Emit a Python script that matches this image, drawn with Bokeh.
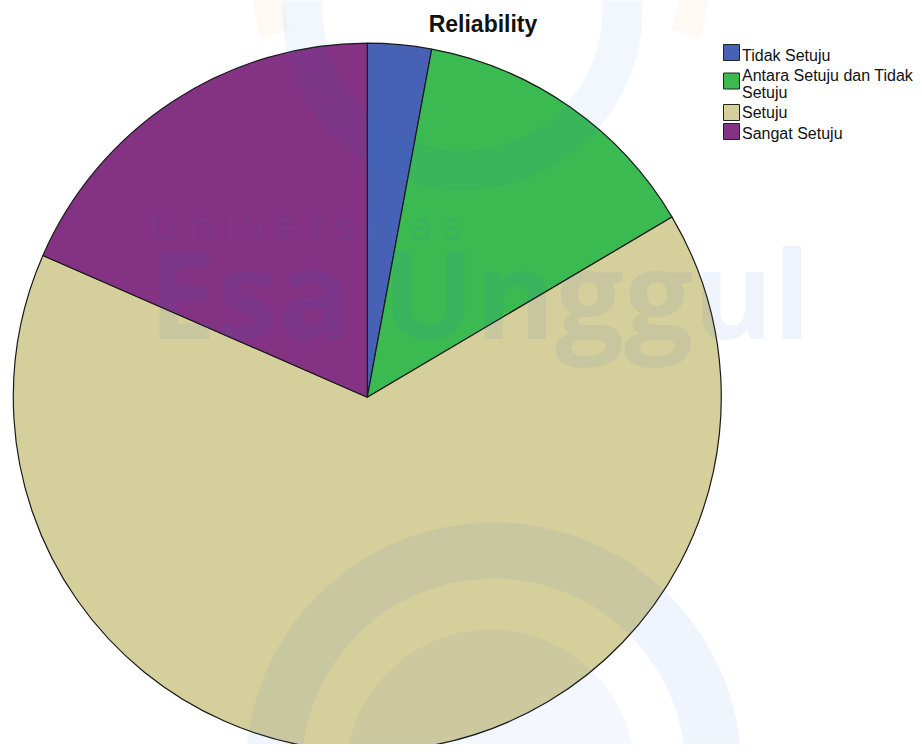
import math
from bokeh.plotting import figure
from bokeh.models import Range1d, ColumnDataSource
from bokeh.core.properties import value
from bokeh.embed import file_html
from bokeh.resources import INLINE

# ---- data ----
title = "Reliability"
categories = ["Tidak Setuju", "Antara Setuju dan Tidak Setuju", "Setuju", "Sangat Setuju"]
legend_labels = ["Tidak Setuju", "Antara Setuju dan Tidak\nSetuju", "Setuju", "Sangat Setuju"]
counts = [3, 14, 67, 19]
colors = ["#4762b4", "#3bba52", "#d5cf9b", "#843384"]

W, H = 914, 744
p = figure(width=W, height=H, output_backend="svg", toolbar_location=None,
           x_range=Range1d(0, W), y_range=Range1d(0, H),
           min_border=0, outline_line_color=None, background_fill_color="white")
p.axis.visible = False
p.grid.visible = False

# ---- pie ----
cx, cy, r = 366.8, 347.3, 354
total = float(sum(counts))
starts, ends = [], []
cum = 0.0
for c in counts:
    starts.append(math.pi / 2 - 2 * math.pi * cum / total)
    cum += c
    ends.append(math.pi / 2 - 2 * math.pi * cum / total)
src = ColumnDataSource(dict(start=starts, end=ends, color=colors, cat=categories))
p.wedge(x=cx, y=cy, radius=r, start_angle="start", end_angle="end", direction="clock",
        fill_color="color", line_color="#1a1a1a", line_width=1.2, source=src)

# ---- faint watermark ----
wm_blue = "#2a62d8"
wm_orange = "#f08030"
p.annular_wedge(x=[462], y=[734], inner_radius=140, outer_radius=180, start_angle=0,
                end_angle=2 * math.pi, fill_color=wm_blue, fill_alpha=0.06, line_color=None)
p.annular_wedge(x=[480], y=[774], inner_radius=200, outer_radius=230, start_angle=-0.3,
                end_angle=math.pi + 0.3, fill_color=wm_orange, fill_alpha=0.05, line_color=None)
p.annular_wedge(x=[493], y=[-26], inner_radius=192, outer_radius=248, start_angle=0,
                end_angle=math.pi, fill_color=wm_blue, fill_alpha=0.07, line_color=None)
p.annular_wedge(x=[490], y=[-30], inner_radius=0, outer_radius=145, start_angle=0,
                end_angle=math.pi, fill_color=wm_blue, fill_alpha=0.05, line_color=None)
p.text(x=[150], y=[520], text=["U n i v e r s i t a s"], text_font=value("Open Sans"),
       text_font_size="40px", text_color=wm_blue, text_alpha=0.09, text_baseline="middle")
p.text(x=[148], y=[453], text=["Esa Unggul"], text_font=value("Open Sans"),
       text_font_style="bold", text_font_size="122px", text_color=wm_blue, text_alpha=0.08,
       text_baseline="middle")

# ---- title ----
p.text(x=[482.5], y=[721], text=[title], text_font=value("Liberation Sans"),
       text_font_style="bold", text_font_size="23px", text_color="#111111",
       text_align="center", text_baseline="middle")

# ---- legend ----
sw_y = [692, 663.5, 632, 613]
sw_x = 731
p.rect(x=[sw_x] * len(categories), y=sw_y, width=16, height=16, fill_color=colors,
       line_color="#222222", line_width=1)
text_y = [689.5, 669, 632.3, 610.7]
tx, ty, tt = [], [], []
for lab, yy in zip(legend_labels, text_y):
    for k, ln in enumerate(lab.split("\n")):
        tx.append(741.5); ty.append(yy - 16.7 * k); tt.append(ln)
p.text(x=tx, y=ty, text=tt, text_font=value("Liberation Sans"), text_font_size="16px",
       text_color="#111111", text_baseline="middle", text_align="left")

open("out.html", "w").write(file_html(p, INLINE))
